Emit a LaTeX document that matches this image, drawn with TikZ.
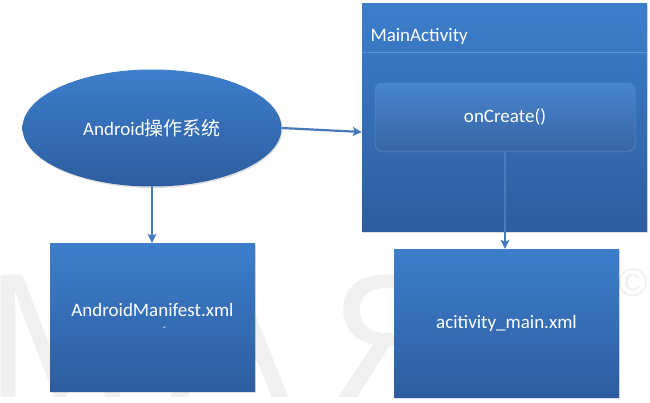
\documentclass[tikz,border=0pt]{standalone}
\usepackage{fontspec}
\setmainfont{Carlito}
\newfontfamily\cjk{Noto Sans CJK SC}
\newfontfamily\wmfont{Liberation Sans}
\usetikzlibrary{shapes.geometric,shadows,arrows.meta}
\definecolor{boxtop}{RGB}{61,126,203}
\definecolor{boxbot}{RGB}{45,93,160}
\definecolor{arrowblue}{RGB}{70,122,188}
\definecolor{sepline}{RGB}{96,146,210}
\definecolor{wmgray}{RGB}{240,240,240}
\begin{document}
\begin{tikzpicture}[x=1pt,y=-1pt,line join=round,>=stealth]
	\tikzset{every node/.style={text=white,font=\fontsize{19}{22}\selectfont},
		bluebox/.style={top color=boxtop,bottom color=boxbot,draw=none,
			drop shadow={opacity=0.25,shadow xshift=1pt,shadow yshift=-1.5pt}},
		wm/.style={text=wmgray,font=\wmfont\fontsize{178}{180}\selectfont,inner sep=0pt},
		conn/.style={-{Stealth[length=9pt,width=9pt,inset=2pt]},draw=arrowblue,line width=2.2pt}}
	\useasboundingbox[fill=white] (0,0) rectangle (650,402);
	% watermark
	\node[wm,anchor=south west] (wmM) at (-14,398) {M};
	\node[wm,anchor=south west] (wmA) at (170,398) {A};
	\node[wm,anchor=south west] (wmR) at (330,398) {Я};
	\node[wm,anchor=center,font=\wmfont\fontsize{40}{40}\selectfont] (wmC) at (633,283) {©};
	% boxes
	\node[bluebox,ellipse,minimum width=259,minimum height=117] (os) at (152,128) {Android{\cjk 操作系统}};
	\node[bluebox,minimum width=285,minimum height=228] (main) at (504.5,117) {};
	\draw[sepline,line width=1pt] (main.west |- 0,52) -- (main.east |- 0,52);
	\node[anchor=west] (title) at (367,36) {MainActivity};
	\node[top color=boxtop!95!white,bottom color=boxbot!95!white,draw=sepline!70!boxtop,line width=0.5pt,
		rounded corners=7pt,minimum width=260,minimum height=68,
		drop shadow={opacity=0.2,shadow xshift=0.5pt,shadow yshift=-1.5pt}] (oncreate) at (505,117) {onCreate()};
	\node[bluebox,minimum width=205,minimum height=148,align=center] (manifest) at (152.5,317)
		{AndroidManifest.xml\\[-8pt]\hspace{24pt}{\fontsize{10}{10}\selectfont -}};
	\node[bluebox,minimum width=225,minimum height=148] (layout) at (506.5,323) {acitivity\_main.xml};
	% arrows
	\draw[conn] (os.east) -- ([yshift=-15pt]main.west);
	\draw[conn] (os.south) -- (os.south |- manifest.north);
	\draw[conn] (oncreate.south) -- (oncreate.south |- layout.north);
\end{tikzpicture}
\end{document}
